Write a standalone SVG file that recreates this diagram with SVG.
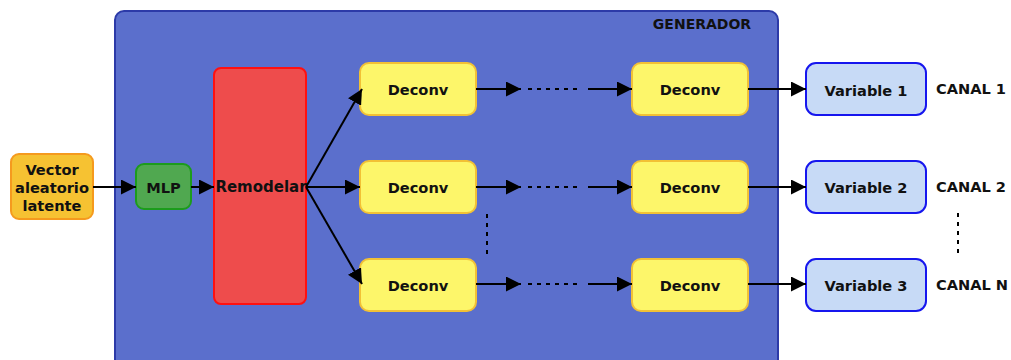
<svg xmlns="http://www.w3.org/2000/svg" width="1011" height="360" viewBox="0 0 1011 360">
  <defs>
    <marker id="arr" viewBox="0 0 10 10" refX="10" refY="5" markerWidth="15" markerHeight="15" markerUnits="userSpaceOnUse" orient="auto">
      <path d="M0,0 L10,5 L0,10 Z" fill="#000"/>
    </marker>
    <style>
      text { font-family: "DejaVu Sans", "Liberation Sans", sans-serif; font-weight: bold; fill: #111; text-anchor: middle; dominant-baseline: central; }
      .t13 { font-size: 14.6px; }
      .deconv { fill: #fdf66a; stroke: #f2c135; stroke-width: 2; }
      .var { fill: #c7daf6; stroke: #1616ee; stroke-width: 2; }
      .edge { stroke: #000; stroke-width: 2; fill: none; }
      .dots { stroke: #000; stroke-width: 2; fill: none; stroke-dasharray: 4 5; }
    </style>
  </defs>

  <!-- generator container -->
  <g id="generador">
    <rect x="115" y="11" width="663" height="370" rx="9" fill="#5b6fcc" stroke="#2c3aa8" stroke-width="2"/>
    <text x="702" y="24" class="t13" style="font-size:14px">GENERADOR</text>
  </g>

  <g id="vector">
    <rect x="11" y="154" width="82" height="65" rx="8" fill="#f6c232" stroke="#f59a1e" stroke-width="2"/>
    <text x="52" y="169" class="t13">Vector</text>
    <text x="52" y="187" class="t13">aleatorio</text>
    <text x="52" y="205" class="t13">latente</text>
  </g>

  <g id="mlp">
    <rect x="136" y="164" width="55" height="45" rx="8" fill="#50a850" stroke="#1c9c1c" stroke-width="2"/>
    <text x="163.5" y="187" class="t13">MLP</text>
  </g>

  <g id="remodelar">
    <rect x="214" y="68" width="92" height="236" rx="7" fill="#ee4c4c" stroke="#ff1010" stroke-width="2"/>
    <text x="261" y="187" class="t13" style="font-size:15px">Remodelar</text>
  </g>

  <g id="deconv-1a"><rect x="360" y="63" width="116" height="52" rx="9" class="deconv"/><text x="418" y="89" class="t13">Deconv</text></g>
  <g id="deconv-2a"><rect x="360" y="161" width="116" height="52" rx="9" class="deconv"/><text x="418" y="187" class="t13">Deconv</text></g>
  <g id="deconv-3a"><rect x="360" y="259" width="116" height="52" rx="9" class="deconv"/><text x="418" y="285" class="t13">Deconv</text></g>

  <g id="deconv-1b"><rect x="632" y="63" width="116" height="52" rx="9" class="deconv"/><text x="690" y="89" class="t13">Deconv</text></g>
  <g id="deconv-2b"><rect x="632" y="161" width="116" height="52" rx="9" class="deconv"/><text x="690" y="187" class="t13">Deconv</text></g>
  <g id="deconv-3b"><rect x="632" y="259" width="116" height="52" rx="9" class="deconv"/><text x="690" y="285" class="t13">Deconv</text></g>

  <g id="variable-1"><rect x="806" y="63" width="120" height="52" rx="10" class="var"/><text x="866" y="90" class="t13">Variable 1</text></g>
  <g id="variable-2"><rect x="806" y="161" width="120" height="52" rx="10" class="var"/><text x="866" y="187" class="t13">Variable 2</text></g>
  <g id="variable-3"><rect x="806" y="259" width="120" height="52" rx="10" class="var"/><text x="866" y="285" class="t13">Variable 3</text></g>

  <g id="canales">
    <text x="971" y="88" class="t13">CANAL 1</text>
    <text x="971" y="186" class="t13">CANAL 2</text>
    <text x="972" y="284" class="t13">CANAL N</text>
  </g>

  <!-- connectors -->
  <g id="connectors">
    <line x1="93" y1="187" x2="136" y2="187" class="edge" marker-end="url(#arr)"/>
    <line x1="191" y1="187" x2="214" y2="187" class="edge" marker-end="url(#arr)"/>
    <line x1="306" y1="187" x2="362" y2="89" class="edge" marker-end="url(#arr)"/>
    <line x1="306" y1="187" x2="360" y2="187" class="edge" marker-end="url(#arr)"/>
    <line x1="306" y1="187" x2="362" y2="284" class="edge" marker-end="url(#arr)"/>

    <line x1="476" y1="89" x2="521" y2="89" class="edge" marker-end="url(#arr)"/>
    <line x1="528" y1="89" x2="582" y2="89" class="dots"/>
    <line x1="588" y1="89" x2="632" y2="89" class="edge" marker-end="url(#arr)"/>

    <line x1="476" y1="187" x2="521" y2="187" class="edge" marker-end="url(#arr)"/>
    <line x1="528" y1="187" x2="582" y2="187" class="dots"/>
    <line x1="588" y1="187" x2="632" y2="187" class="edge" marker-end="url(#arr)"/>

    <line x1="476" y1="284" x2="521" y2="284" class="edge" marker-end="url(#arr)"/>
    <line x1="528" y1="284" x2="582" y2="284" class="dots"/>
    <line x1="588" y1="284" x2="632" y2="284" class="edge" marker-end="url(#arr)"/>

    <line x1="748" y1="89" x2="806" y2="89" class="edge" marker-end="url(#arr)"/>
    <line x1="748" y1="187" x2="806" y2="187" class="edge" marker-end="url(#arr)"/>
    <line x1="748" y1="284" x2="806" y2="284" class="edge" marker-end="url(#arr)"/>

    <line x1="487" y1="214" x2="487" y2="256" class="dots"/>
    <line x1="958" y1="213" x2="958" y2="254" class="dots"/>
  </g>
</svg>
